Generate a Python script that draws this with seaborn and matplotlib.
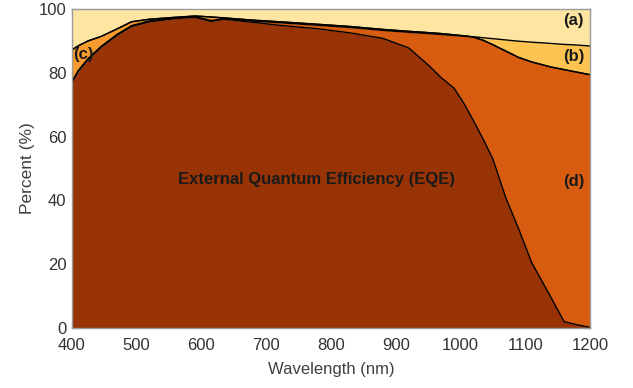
import numpy as np
import pandas as pd
import matplotlib
matplotlib.use("Agg")
import matplotlib.pyplot as plt
from matplotlib.ticker import MultipleLocator
import seaborn as sns

# ---- data (percent) ----
wavelength = [400, 410, 425, 445, 470, 492, 520, 560, 590, 615, 635, 680, 720, 780, 830,
              880, 920, 950, 970, 990, 1005, 1020, 1035, 1050, 1070, 1090, 1110, 1140,
              1160, 1180, 1200]
curve_a = [87.2, 88.5, 90.0, 91.4, 93.8, 96.0, 96.8, 97.4, 97.8, 97.5, 97.2, 96.5, 96.0, 95.2, 94.5,
           93.6, 93.0, 92.6, 92.3, 91.9, 91.6, 91.3, 91.0, 90.7, 90.3, 89.9, 89.6, 89.2,
           88.9, 88.7, 88.4]
curve_b = [87.2, 88.5, 90.0, 91.4, 93.8, 96.0, 96.8, 97.4, 97.8, 97.5, 97.2, 96.5, 96.0, 95.2, 94.5,
           93.6, 93.0, 92.6, 92.3, 91.9, 91.6, 91.2, 90.2, 88.8, 86.8, 84.8, 83.4, 81.8,
           81.0, 80.2, 79.4]
curve_c = [77.4, 80.8, 84.5, 88.3, 92.1, 94.8, 96.3, 97.2, 97.6, 96.4, 97.0, 96.2, 95.7, 94.9, 94.2,
           93.3, 92.7, 92.3, 92.0, 91.7, 91.5, 91.2, 90.2, 88.8, 86.8, 84.8, 83.4, 81.8,
           81.0, 80.2, 79.4]
eqe = [77.0, 80.5, 84.2, 88.0, 91.8, 94.5, 96.0, 97.0, 97.4, 96.1, 96.8, 95.8, 94.9, 93.8, 92.5,
       90.8, 87.8, 82.5, 78.5, 75.2, 70.5, 65.0, 59.2, 53.0, 40.8, 31.0, 20.5, 9.5,
       2.0, 1.0, 0.2]

region_labels = ["(a)", "(b)", "(c)", "(d)"]
center_text = "External Quantum Efficiency (EQE)"

df = pd.DataFrame({"wl": wavelength, "a": curve_a, "b": curve_b, "c": curve_c, "eqe": eqe})

sns.set_theme(style="ticks")
plt.rcParams["font.family"] = ["Liberation Sans", "DejaVu Sans"]

fig = plt.figure(figsize=(6.33, 3.88), dpi=100)
ax = fig.add_axes([72 / 633, 1 - 328 / 388, 518 / 633, 319 / 388])

col_a = "#FEE6A2"
col_b = "#FEC452"
col_c = "#F89B2E"
col_d = "#D85C10"
col_e = "#973305"

ax.fill_between(df["wl"], df["a"], 100, color=col_a, lw=0)
ax.fill_between(df["wl"], df["b"], df["a"], color=col_b, lw=0)
ax.fill_between(df["wl"], df["c"], df["b"], color=col_c, lw=0)
ax.fill_between(df["wl"], df["eqe"], df["c"], color=col_d, lw=0)
ax.fill_between(df["wl"], 0, df["eqe"], color=col_e, lw=0)

for key in ["a", "b", "c", "eqe"]:
    sns.lineplot(data=df, x="wl", y=key, ax=ax, color="black", lw=1.0, legend=False)

ax.set_xlim(400, 1200)
ax.set_ylim(0, 100)
ax.xaxis.set_major_locator(MultipleLocator(100))
ax.xaxis.set_minor_locator(MultipleLocator(12.5))
ax.yaxis.set_major_locator(MultipleLocator(20))
ax.yaxis.set_minor_locator(MultipleLocator(2.5))
ax.tick_params(which="both", direction="in", top=True, right=True, colors="#555555",
               labelcolor="#333333")
ax.tick_params(which="major", length=4, width=0.8, labelsize=12)
ax.tick_params(axis="x", which="major", pad=7)
ax.tick_params(axis="y", which="major", pad=4)
ax.tick_params(which="minor", length=2, width=0.6)
for s in ax.spines.values():
    s.set_color("#9a9a9a")
    s.set_linewidth(1.0)

ax.set_xlabel("Wavelength (nm)", fontsize=12, color="#404040", labelpad=7)
ax.set_ylabel("Percent (%)", fontsize=12.5, color="#404040", labelpad=3)

tk = dict(fontsize=12, fontweight="bold", color="#1a1a1a", ha="center", va="center")
ax.text(1175, 96.3, region_labels[0], **tk)
ax.text(1175, 85.0, region_labels[1], **tk)
ax.text(418, 85.6, region_labels[2], **tk)
ax.text(1175, 46.0, region_labels[3], **tk)
ax.text(777, 46.5, center_text, **tk)

fig.savefig("out.png", dpi=100)
